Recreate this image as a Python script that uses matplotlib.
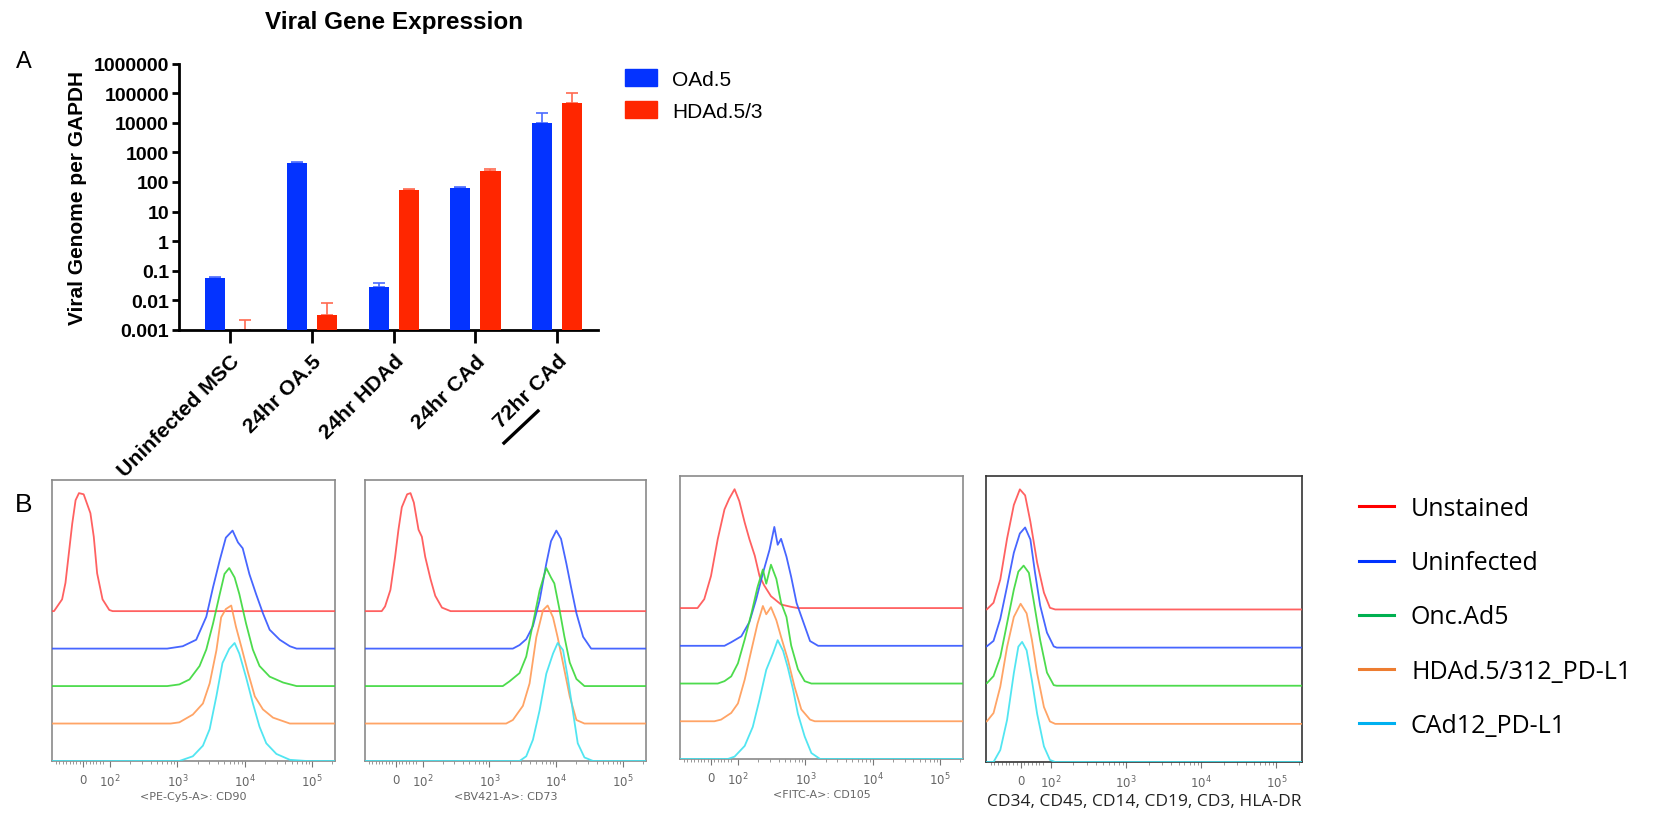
import matplotlib
matplotlib.use("Agg")
import matplotlib.pyplot as plt
from matplotlib.patches import Patch
from matplotlib.lines import Line2D
from matplotlib.ticker import FixedLocator, NullLocator
import numpy as np

plt.rcParams['font.family'] = ['Liberation Sans', 'DejaVu Sans']

# ---------------- Panel A data ----------------
groups = ['Uninfected MSC', '24hr OA.5', '24hr HDAd', '24hr CAd', '72hr CAd']
oad5_mean = [0.055, 450, 0.028, 62, 9500]
oad5_sd = [0.006, 20, 0.012, 5, 11500]
hdad_mean = [0.001, 0.0032, 55, 240, 45000]
hdad_sd = [0.0012, 0.0049, 4, 25, 58000]
series_a = ['OAd.5', 'HDAd.5/3']
ytick_vals = [0.001, 0.01, 0.1, 1, 10, 100, 1000, 10000, 100000, 1000000]
ytick_labels = ['0.001', '0.01', '0.1', '1', '10', '100', '1000', '10000', '100000', '1000000']

# ---------------- Panel B data (x in log10 intensity, height in % of mode) ----------------
samples = ['Unstained', 'Uninfected', 'Onc.Ad5', 'HDAd.5/312_PD-L1', 'CAd12_PD-L1']
markers = ['<PE-Cy5-A>: CD90', '<BV421-A>: CD73', '<FITC-A>: CD105',
           'CD34, CD45, CD14, CD19, CD3, HLA-DR']

cd90 = {
    'Unstained': ([1.17, 1.29, 1.34, 1.39, 1.44, 1.49, 1.54, 1.61, 1.71, 1.76, 1.81, 1.89, 1.99, 2.04],
                  [0, 10, 24, 49, 74, 94, 100, 99, 83, 63, 32, 10, 1, 0]),
    'Uninfected': ([2.85, 3.08, 3.28, 3.43, 3.53, 3.63, 3.72, 3.82, 3.90, 3.97, 4.07, 4.17, 4.27, 4.37, 4.52, 4.67, 4.77],
                   [0, 2, 7.5, 27, 52, 75, 94, 100, 90, 85, 63, 46, 30, 16, 7.5, 2, 0]),
    'Onc.Ad5': ([2.85, 3.03, 3.18, 3.33, 3.43, 3.53, 3.63, 3.70, 3.77, 3.85, 3.92, 4.02, 4.12, 4.22, 4.37, 4.57, 4.77],
                [0, 1.4, 5.6, 17, 31, 53, 78, 95, 100, 92, 78, 53, 31, 17, 8, 3, 0]),
    'HDAd.5/312_PD-L1': ([2.90, 3.03, 3.23, 3.38, 3.48, 3.58, 3.65, 3.72, 3.80, 3.87, 3.95, 4.05, 4.15, 4.27, 4.42, 4.67],
                         [0, 1, 7.6, 17, 34, 62, 90, 97, 100, 82, 65, 43, 23, 12, 5, 0]),
    'CAd12_PD-L1': ([3.03, 3.23, 3.38, 3.48, 3.58, 3.67, 3.77, 3.85, 3.92, 4.02, 4.12, 4.22, 4.32, 4.47, 4.67, 4.92],
                    [0, 4, 13, 27, 55, 83, 95, 100, 91, 71, 49, 29, 15, 6, 1, 0]),
}
cd73 = {
    'Unstained': ([1.39, 1.44, 1.52, 1.59, 1.64, 1.69, 1.77, 1.82, 1.87, 1.94, 1.99, 2.04, 2.12, 2.19, 2.29, 2.42],
                  [0, 4, 18, 46, 69, 88, 99, 100, 92, 69, 63, 46, 27, 13, 3, 0]),
    'Uninfected': ([3.35, 3.45, 3.55, 3.65, 3.75, 3.85, 3.92, 4.00, 4.07, 4.15, 4.22, 4.30, 4.40, 4.52],
                   [0, 3, 8, 19, 41, 72, 91, 100, 93, 72, 52, 30, 10, 0]),
    'Onc.Ad5': ([3.20, 3.30, 3.45, 3.55, 3.65, 3.75, 3.85, 3.92, 3.97, 4.05, 4.12, 4.20, 4.30, 4.42],
                [0, 4, 11, 25, 53, 81, 100, 92, 87, 64, 42, 20, 6, 0]),
    'HDAd.5/312_PD-L1': ([3.25, 3.35, 3.50, 3.60, 3.70, 3.80, 3.87, 3.95, 4.02, 4.10, 4.20, 4.30, 4.42],
                         [0, 3, 15, 34, 73, 96, 100, 90, 73, 51, 23, 3, 0]),
    'CAd12_PD-L1': ([3.45, 3.55, 3.65, 3.75, 3.85, 3.95, 4.02, 4.10, 4.17, 4.25, 4.32, 4.42, 4.55],
                    [0, 4, 18, 43, 74, 91, 100, 94, 71, 41, 15, 3, 0]),
}
cd105 = {
    'Unstained': ([1.40, 1.50, 1.60, 1.70, 1.80, 1.87, 1.95, 2.02, 2.10, 2.17, 2.25, 2.32, 2.39, 2.49, 2.64, 2.79, 2.89],
                  [0, 7.5, 27, 58, 83, 92, 100, 90, 72, 58, 44, 27, 19, 10, 3, 1, 0]),
    'Uninfected': ([1.80, 1.90, 2.05, 2.17, 2.27, 2.37, 2.47, 2.54, 2.59, 2.64, 2.72, 2.79, 2.87, 2.97, 3.07, 3.19],
                   [0, 3, 8, 20, 39, 61, 81, 100, 85, 90, 75, 58, 36, 20, 4, 0]),
    'Onc.Ad5': ([1.70, 1.80, 1.90, 2.00, 2.10, 2.20, 2.29, 2.37, 2.42, 2.49, 2.57, 2.64, 2.72, 2.79, 2.89, 2.99, 3.09],
                [0, 2, 6, 17, 37, 59, 81, 96, 84, 100, 88, 68, 56, 32, 12, 2, 0]),
    'HDAd.5/312_PD-L1': ([1.65, 1.75, 1.90, 2.00, 2.10, 2.20, 2.29, 2.37, 2.42, 2.49, 2.57, 2.64, 2.74, 2.84, 2.94, 3.07, 3.14],
                         [0, 1.4, 7, 15, 35, 60, 82, 97, 90, 96, 85, 71, 52, 29, 10, 1.4, 0]),
    'CAd12_PD-L1': ([1.85, 1.95, 2.10, 2.22, 2.32, 2.42, 2.52, 2.59, 2.67, 2.74, 2.82, 2.89, 2.99, 3.09, 3.22],
                    [0, 2, 11, 27, 50, 75, 89, 100, 91, 77, 58, 38, 19, 5, 0]),
}
lineage = {
    'Unstained': ([1.15, 1.24, 1.33, 1.42, 1.51, 1.59, 1.66, 1.73, 1.82, 1.91, 1.99, 2.06],
                  [0, 5.6, 25, 59, 87, 100, 95, 73, 39, 14, 1.4, 0]),
    'Uninfected': ([1.15, 1.24, 1.33, 1.42, 1.51, 1.59, 1.66, 1.73, 1.79, 1.86, 1.95, 2.04, 2.08],
                   [1, 5.6, 24, 51, 79, 95, 100, 90, 63, 35, 12.5, 1, 0]),
    'Onc.Ad5': ([1.15, 1.24, 1.33, 1.42, 1.51, 1.57, 1.64, 1.71, 1.77, 1.86, 1.95, 2.04, 2.08],
                [2, 8, 24, 52, 80, 95, 100, 94, 72, 38, 11, 0.5, 0]),
    'HDAd.5/312_PD-L1': ([1.15, 1.24, 1.33, 1.42, 1.51, 1.60, 1.68, 1.75, 1.82, 1.91, 1.99, 2.06],
                         [2, 9, 31, 64, 89, 100, 92, 70, 42, 14, 2, 0]),
    'CAd12_PD-L1': ([1.24, 1.33, 1.42, 1.51, 1.57, 1.62, 1.68, 1.75, 1.82, 1.91, 1.99, 2.06],
                    [0, 10, 35, 74, 96, 100, 93, 68, 40, 13, 1.7, 0]),
}
flow_ticks = [1.6, 2, 3, 4, 5]
flow_tick_labels = ['0', r'$10^2$', r'$10^3$', r'$10^4$', r'$10^5$']

# ---------------- styling ----------------
W, H = 1653, 820
fig = plt.figure(figsize=(W / 100, H / 100), dpi=100)

def fx(px):
    return px / W

def fy(py):
    return 1 - py / H

bar_blue = '#0433ff'
bar_red = '#ff2600'

# ---------------- Panel A ----------------
axA = fig.add_axes([fx(178.6), fy(331), fx(598 - 178.6), (331 - 64.5) / H])
x = np.arange(len(groups))
off, bw = 0.184, 0.245
axA.bar(x - off, oad5_mean, width=bw, color=bar_blue, zorder=3)
axA.bar(x + off, hdad_mean, width=bw, color=bar_red, zorder=3)
axA.errorbar(x - off, oad5_mean, yerr=[np.zeros(5), oad5_sd], fmt='none',
             ecolor='#4a6bff', elinewidth=1.2, capsize=4, capthick=1.2, zorder=2)
axA.errorbar(x + off, hdad_mean, yerr=[np.zeros(5), hdad_sd], fmt='none',
             ecolor='#ff6a50', elinewidth=1.2, capsize=4, capthick=1.2, zorder=2)
axA.set_yscale('log')
axA.set_ylim(1e-3, 1e6)
axA.set_xlim(-0.634, 4.5)
axA.yaxis.set_major_locator(FixedLocator(ytick_vals))
axA.yaxis.set_minor_locator(NullLocator())
axA.set_yticklabels(ytick_labels, fontsize=14, fontweight='bold')
axA.set_xticks(x)
axA.set_xticklabels(groups, rotation=45, ha='right', rotation_mode='anchor',
                    fontsize=15.3, fontweight='bold')
for s in ['top', 'right']:
    axA.spines[s].set_visible(False)
for s in ['left', 'bottom']:
    axA.spines[s].set_linewidth(2)
axA.tick_params(axis='y', length=5, width=2, pad=2)
axA.tick_params(axis='x', length=9, width=2, pad=6)
axA.set_ylabel('Viral Genome per GAPDH', fontsize=15, fontweight='bold')
axA.yaxis.set_label_coords(-0.218, 0.5)

fig.text(fx(394), fy(22), 'Viral Gene Expression', fontsize=17.5, fontweight='bold',
         ha='center', va='center')
fig.text(fx(24), fy(62), 'A', fontsize=17, ha='center', va='center')
fig.text(fx(24), fy(505), 'B', fontsize=19, ha='center', va='center')

# underline under "72hr"
fig.add_artist(Line2D([fx(504), fx(538)], [fy(444), fy(412)], color='black', lw=2.4,
                      transform=fig.transFigure))

fig.legend(handles=[Patch(color=bar_blue), Patch(color=bar_red)], labels=series_a,
           loc='upper left', bbox_to_anchor=(fx(625), fy(70)), frameon=False,
           prop=dict(family='Liberation Sans', size=15), handlelength=1.54,
           handleheight=0.87, handletextpad=0.72, labelspacing=0.6,
           borderpad=0, borderaxespad=0)

# ---------------- Panel B ----------------
hist_colors = {'Unstained': '#ff5050', 'Uninfected': '#3355ff', 'Onc.Ad5': '#3ad83a',
               'HDAd.5/312_PD-L1': '#ff9a55', 'CAd12_PD-L1': '#3fe3f0'}
legend_colors = {'Unstained': '#ff0000', 'Uninfected': '#0033ff', 'Onc.Ad5': '#00b050',
                 'HDAd.5/312_PD-L1': '#ed7d31', 'CAd12_PD-L1': '#00b0f0'}
offsets = {'Unstained': 4, 'Uninfected': 3, 'Onc.Ad5': 2, 'HDAd.5/312_PD-L1': 1, 'CAd12_PD-L1': 0}
peak_scale = 3.15 / 100.0
xmin, xmax = 1.14, 5.34

boxes = [(52, 335, 481, 762), (365, 646, 481, 762), (680, 963, 477, 760), (986, 1302, 477, 763)]
datasets = [cd90, cd73, cd105, lineage]

minor_pos = []
for n in [2, 3, 4]:
    for k in range(2, 10):
        minor_pos.append(n + np.log10(k))
minor_pos += [5 + np.log10(2)]
minor_pos += [1.20, 1.25, 1.30, 1.35, 1.40, 1.45, 1.50, 1.55, 1.65, 1.70, 1.75, 1.80, 1.85, 1.90]

for i, (box, data) in enumerate(zip(boxes, datasets)):
    l, r, t, b = box
    ax = fig.add_axes([fx(l), fy(b), fx(r - l), (b - t) / H])
    for s in samples:
        xs, hs = data[s]
        xx = [xmin] + list(xs) + [xmax]
        hh = [hs[0]] + list(hs) + [hs[-1]]
        yy = offsets[s] + np.array(hh) * peak_scale
        ax.plot(xx, yy, color=hist_colors[s], lw=1.3, alpha=0.9, zorder=3,
                solid_joinstyle='round')
    ax.set_xlim(xmin, xmax)
    ax.set_ylim(0, 7.5)
    ax.set_yticks([])
    ax.xaxis.set_major_locator(FixedLocator(flow_ticks))
    ax.xaxis.set_minor_locator(FixedLocator(minor_pos))
    ax.set_xticklabels(flow_tick_labels, fontsize=8.5, color='#666666',
                       family='DejaVu Sans')
    ax.tick_params(axis='x', which='major', length=4.5, width=0.8, color='#777777', pad=4)
    ax.tick_params(axis='x', which='minor', length=2.5, width=0.6, color='#888888')
    edge = '#333333' if i == 3 else '#8a8a8a'
    for s in ax.spines.values():
        s.set_color(edge)
        s.set_linewidth(1.2)
    if i < 3:
        ax.set_xlabel(markers[i], fontsize=8, color='#666666', family='DejaVu Sans',
                      labelpad=1)
    else:
        ax.set_xlabel(markers[i], fontsize=12.5, color='#222222', family='Open Sans',
                      labelpad=2)

fig.legend(handles=[Line2D([], [], color=legend_colors[s], lw=2.2) for s in samples],
           labels=samples, loc='upper left', bbox_to_anchor=(fx(1359), fy(497)),
           frameon=False, prop=dict(family='Open Sans', size=18), handlelength=1.4,
           handletextpad=0.68, labelspacing=1.17, borderpad=0, borderaxespad=0)

fig.savefig('out.png', dpi=100)
